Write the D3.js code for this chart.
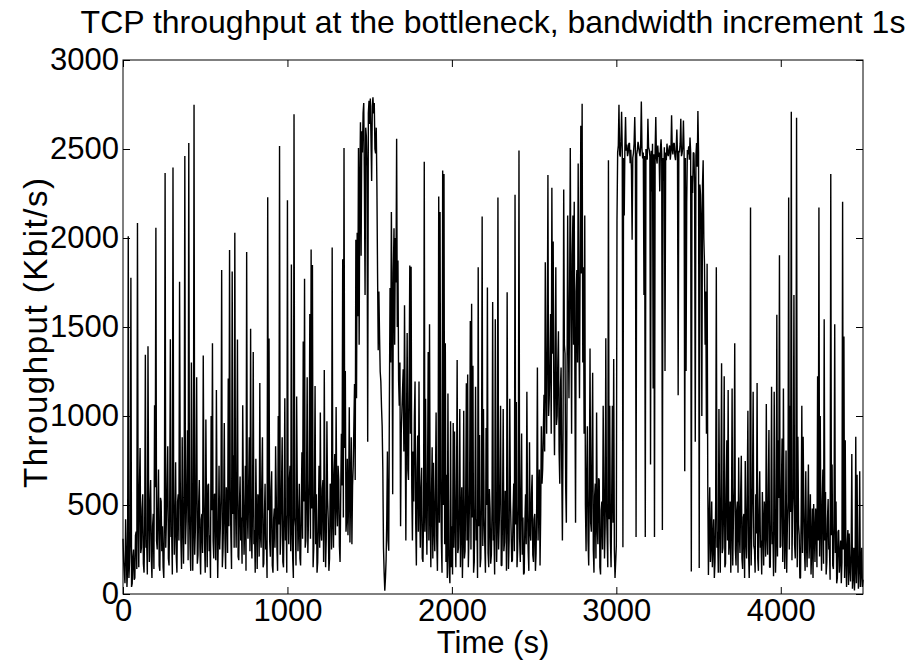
<!DOCTYPE html>
<html>
<head>
<meta charset="utf-8">
<script src="https://cdn.jsdelivr.net/npm/d3@7"></script>
<style>
  body { margin: 0; background: #fff; }
  svg text { font-family: "Liberation Sans", Arial, Helvetica, sans-serif; fill: #000; }
</style>
</head>
<body>
<svg id="chart"></svg>
<script>
const titleText = 'TCP throughput at the bottleneck, bandwidth increment 1s';
const xLabel = 'Time (s)';
const yLabel = 'Throughput (Kbit/s)';
const xTicks = [0, 1000, 2000, 3000, 4000];
const yTicks = [0, 500, 1000, 1500, 2000, 2500, 3000];
const timeMax = 4500;
const sampleStep = 4; // seconds between the samples below

// throughput in Kbit/s, one sample every 4 s from t = 0
// (one row = 80 s)
const throughput = [
  310, 180, 120, 60, 420, 250, 40, 150, 2010, 90, 180, 300, 1777, 40, 60, 210, 250, 80, 90, 330,
  350, 140, 2084, 420, 150, 610, 820, 230, 260, 480, 560, 170, 120, 390, 1344, 260, 300, 110, 1392, 450,
  180, 520, 640, 210, 90, 380, 450, 140, 1060, 600, 2058, 300, 250, 470, 700, 160, 130, 540, 520, 240,
  380, 150, 90, 430, 2365, 260, 420, 590, 830, 200, 160, 480, 1431, 320, 350, 110, 2396, 560, 220, 380,
  740, 210, 120, 520, 560, 300, 1754, 650, 300, 140, 880, 410, 170, 540, 2460, 280, 410, 620, 920, 190,
  2534, 450, 260, 130, 1300, 580, 130, 360, 2748, 220, 360, 640, 1218, 170, 220, 500, 640, 260, 110, 420,
  450, 230, 1340, 560, 280, 120, 980, 430, 150, 610, 620, 240, 330, 90, 1000, 470, 1408, 300, 200, 560,
  560, 190, 1146, 420, 90, 330, 720, 250, 380, 580, 1820, 150, 240, 460, 960, 310, 140, 600, 520, 230,
  1210, 380, 1932, 600, 330, 140, 1812, 450, 780, 260, 2029, 520, 260, 640, 1430, 210, 190, 490, 660, 300,
  430, 170, 1060, 560, 220, 380, 720, 130, 1922, 470, 310, 600, 880, 240, 1490, 350, 200, 530, 1359, 280,
  360, 120, 760, 410, 140, 560, 520, 210, 1185, 330, 260, 630, 880, 150, 170, 440, 620, 250, 300, 90,
  2229, 470, 1435, 300, 210, 580, 690, 160, 120, 420, 480, 260, 830, 550, 260, 130, 1000, 390, 2517, 220,
  330, 600, 880, 180, 150, 460, 1100, 300, 440, 120, 2212, 510, 280, 650, 720, 240, 1851, 370, 200, 90,
  2695, 430, 380, 160, 1110, 560, 240, 390, 620, 200, 160, 480, 796, 310, 1418, 520, 1771, 260, 300, 590,
  1218, 230, 420, 640, 1573, 310, 1936, 480, 1849, 150, 260, 570, 1169, 280, 560, 120, 180, 430, 720, 260,
  1020, 350, 300, 590, 640, 180, 1258, 460, 150, 310, 971, 540, 420, 130, 200, 620, 560, 250, 1946, 400,
  260, 680, 786, 330, 1050, 500, 380, 720, 640, 270, 180, 560, 900, 610, 1880, 430, 2505, 820, 1253, 350,
  420, 760, 330, 540, 1049, 290, 560, 880, 280, 610, 720, 950, 1180, 640, 1990, 1100, 2029, 1560, 2505, 1400,
  2300, 2650, 1900, 2600, 2480, 2700, 2758, 2300, 1680, 2620, 2569, 2400, 855, 2700, 2771, 2640, 2783, 2560, 2320, 2740,
  2790, 2700, 2758, 2500, 2476, 2620, 2291, 1800, 1369, 1700, 1456, 1250, 1194, 1050, 942, 700, 262, 120, 19, 90,
  194, 420, 800, 300, 243, 1100, 1719, 1300, 2146, 1650, 560, 1800, 2055, 1400, 2000, 1750, 2558, 1500, 1874, 1200,
  1058, 1300, 380, 900, 1029, 1150, 1262, 800, 1622, 1000, 300, 950, 1466, 700, 640, 1200, 1845, 900, 1839, 600,
  301, 800, 520, 1000, 1194, 400, 160, 700, 890, 350, 1194, 500, 260, 600, 709, 200, 180, 450, 2428, 350,
  1097, 500, 220, 640, 1360, 300, 1515, 450, 150, 560, 825, 200, 738, 380, 240, 610, 1020, 300, 130, 520,
  2233, 400, 2146, 650, 300, 120, 2379, 500, 2360, 280, 1408, 180, 670, 90, 1126, 250, 120, 60, 971, 150,
  380, 110, 961, 260, 913, 420, 150, 560, 1315, 230, 260, 480, 1039, 150, 420, 600, 90, 310, 1029, 200,
  240, 560, 1184, 300, 1233, 150, 330, 610, 1534, 250, 1631, 430, 1282, 120, 180, 520, 1165, 300, 420, 90,
  1835, 380, 893, 150, 200, 560, 2121, 270, 1039, 430, 280, 120, 932, 500, 1722, 230, 150, 590, 480, 170,
  220, 470, 1641, 300, 330, 110, 1544, 520, 180, 380, 2227, 250, 400, 620, 1058, 160, 160, 450, 1039, 240,
  290, 580, 560, 130, 1695, 420, 140, 300, 1097, 530, 360, 180, 190, 460, 620, 240, 2243, 390, 1078, 150,
  250, 500, 2492, 310, 180, 590, 902, 220, 430, 110, 120, 400, 560, 280, 1136, 480, 240, 130, 852, 350,
  300, 560, 670, 220, 180, 420, 450, 130, 230, 510, 1272, 300, 520, 700, 160, 450, 942, 620, 700, 900,
  1120, 800, 1864, 1200, 900, 1400, 2354, 1000, 1100, 1300, 1573, 900, 2282, 1350, 1981, 1100, 780, 1250, 1835, 950,
  1000, 1300, 1476, 800, 620, 1150, 1272, 700, 300, 900, 2272, 1400, 1350, 600, 400, 1100, 2126, 1500, 1100, 1700,
  2505, 1600, 900, 1900, 2126, 1400, 2204, 1200, 400, 1700, 1820, 1300, 2418, 1500, 1100, 1900, 2631, 1800, 2754, 1300,
  1835, 900, 2126, 500, 240, 700, 942, 300, 160, 600, 1379, 400, 350, 800, 1243, 250, 120, 550, 620, 200,
  1019, 380, 280, 650, 640, 150, 110, 470, 520, 250, 1058, 600, 200, 380, 1437, 500, 330, 150, 2437, 420,
  1058, 300, 150, 560, 1058, 400, 1320, 250, 90, 180, 272, 2100, 2480, 2520, 2748, 2470, 2457, 2540, 2709, 2500,
  262, 2450, 2126, 2510, 2680, 2490, 2525, 2460, 2480, 2530, 2534, 2420, 2495, 2380, 1990, 2450, 2476, 2530, 2680, 2490,
  320, 2470, 2495, 2540, 2515, 2480, 2460, 2520, 2767, 2500, 2447, 2480, 1680, 2460, 320, 2500, 2466, 2440, 2670, 2510,
  2495, 2460, 728, 2490, 2262, 2530, 1155, 2470, 320, 2500, 2680, 2450, 2418, 2520, 2456, 2480, 2262, 2500, 2554, 2470,
  359, 2450, 2320, 2510, 1253, 2480, 2437, 2530, 2476, 2460, 2500, 2520, 2440, 2480, 2690, 2500, 2470, 2530, 2534, 2460,
  2437, 2500, 2610, 2470, 1117, 2490, 2480, 2530, 2670, 2460, 2476, 2510, 2660, 2480, 689, 2450, 1253, 2200, 2495, 2470,
  2515, 2440, 2564, 2480, 126, 2350, 2253, 2480, 2476, 2300, 855, 2460, 2534, 2400, 2713, 2480, 146, 2300, 2243, 2100,
  1000, 2300, 2437, 2000, 1855, 1400, 1700, 900, 1855, 600, 107, 400, 600, 180, 280, 520, 150, 300, 420, 90,
  180, 500, 1835, 260, 350, 120, 1039, 420, 120, 560, 1297, 230, 260, 480, 1223, 150, 170, 590, 864, 300,
  1146, 220, 300, 520, 120, 380, 1155, 160, 420, 600, 1408, 250, 160, 470, 520, 120, 767, 340, 230, 560,
  777, 200, 140, 430, 450, 90, 747, 310, 200, 550, 1029, 240, 90, 380, 2171, 160, 380, 600, 1136, 270,
  250, 120, 560, 340, 1185, 200, 130, 480, 690, 260, 300, 110, 573, 390, 160, 520, 420, 210, 1068, 330,
  220, 560, 922, 150, 150, 420, 1165, 280, 350, 100, 1136, 460, 120, 300, 1569, 210, 864, 540, 1903, 260,
  270, 610, 874, 180, 1155, 430, 140, 300, 806, 120, 380, 520, 2227, 250, 1058, 460, 2709, 190, 456, 580,
  1680, 280, 200, 480, 2676, 150, 884, 390, 330, 90, 90, 450, 1058, 230, 884, 520, 250, 130, 689, 300,
  150, 420, 728, 200, 320, 560, 110, 260, 480, 90, 505, 340, 180, 480, 400, 150, 1223, 300, 2171, 210,
  1000, 380, 130, 520, 699, 170, 1544, 300, 573, 110, 180, 420, 534, 250, 260, 80, 2360, 330, 728, 160,
  140, 400, 1515, 230, 520, 60, 90, 350, 359, 120, 210, 300, 60, 180, 2204, 250, 1447, 90, 864, 200,
  40, 280, 359, 50, 340, 150, 70, 230, 786, 30, 107, 260, 20, 140, 884, 60, 670, 200, 30, 150,
  689, 40, 120, 260, 40, 80
];

const width = 913;
const height = 662;
const marginLeft = 123;
const marginRight = 50;
const marginTop = 60;
const marginBottom = 68;
const tickLen = 7;

const svg = d3.select('#chart')
  .attr('width', width)
  .attr('height', height)
  .attr('viewBox', [0, 0, width, height]);

svg.append('rect').attr('width', width).attr('height', height).attr('fill', '#fff');

const x = d3.scaleLinear().domain([0, timeMax]).range([marginLeft, width - marginRight]);
const y = d3.scaleLinear().domain([0, 3000]).range([height - marginBottom, marginTop]);

const data = throughput.map((v, i) => ({ t: i * sampleStep, v: v }));

// the trace
const line = d3.line().x((d) => x(d.t)).y((d) => y(d.v));
svg.append('path')
  .datum(data)
  .attr('fill', 'none')
  .attr('stroke', '#000')
  .attr('stroke-width', 1.4)
  .attr('stroke-linejoin', 'bevel')
  .attr('d', line);

// box + inward ticks on all four sides, matlab style
function styleAxis(g) {
  g.select('.domain').remove();
  g.selectAll('.tick line').attr('stroke', '#000').attr('stroke-width', 1);
  g.selectAll('.tick text').style('font-size', '31px').attr('fill', '#000');
}

svg.append('g')
  .attr('transform', `translate(0,${height - marginBottom})`)
  .call(d3.axisBottom(x).tickValues(xTicks).tickSizeInner(-tickLen).tickSizeOuter(0).tickPadding(5).tickFormat(d3.format('d')))
  .call(styleAxis);

svg.append('g')
  .attr('transform', `translate(${marginLeft},0)`)
  .call(d3.axisLeft(y).tickValues(yTicks).tickSizeInner(-tickLen).tickSizeOuter(0).tickPadding(4).tickFormat(d3.format('d')))
  .call(styleAxis);

svg.append('g')
  .attr('transform', `translate(0,${marginTop})`)
  .call(d3.axisTop(x).tickValues(xTicks).tickSizeInner(-tickLen).tickSizeOuter(0).tickFormat(''))
  .call(styleAxis);

svg.append('g')
  .attr('transform', `translate(${width - marginRight},0)`)
  .call(d3.axisRight(y).tickValues(yTicks).tickSizeInner(-tickLen).tickSizeOuter(0).tickFormat(''))
  .call(styleAxis);

svg.append('rect')
  .attr('x', marginLeft)
  .attr('y', marginTop)
  .attr('width', width - marginRight - marginLeft)
  .attr('height', height - marginBottom - marginTop)
  .attr('fill', 'none')
  .attr('stroke', '#000')
  .attr('stroke-width', 1);

// labels
svg.append('text')
  .attr('x', (marginLeft + width - marginRight) / 2)
  .attr('y', 33)
  .attr('text-anchor', 'middle')
  .style('font-size', '32px')
  .text(titleText);

svg.append('text')
  .attr('x', (marginLeft + width - marginRight) / 2)
  .attr('y', 653)
  .attr('text-anchor', 'middle')
  .style('font-size', '31px')
  .text(xLabel);

svg.append('text')
  .attr('transform', `translate(47,333) rotate(-90)`)
  .attr('text-anchor', 'middle')
  .style('font-size', '33px')
  .attr('textLength', 310)
  .attr('lengthAdjust', 'spacing')
  .text(yLabel);
</script>
</body>
</html>
